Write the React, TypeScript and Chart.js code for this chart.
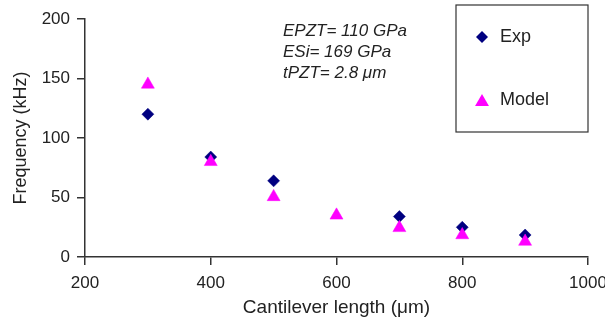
import React, { useEffect, useRef } from "react";
import { Chart, registerables } from "chart.js";

Chart.register(...registerables);

const lengths = [300, 400, 500, 600, 700, 800, 900];
const expLengths = [300, 400, 500, 700, 800, 900];
const expFreq = [120, 84, 64, 34, 25, 18.5];
const modelFreq = [145, 80, 50.5, 35, 24.5, 18.5, 13];
const xTicks = [200, 400, 600, 800, 1000];
const yTicks = [0, 50, 100, 150, 200];
const annotationLines = ["EPZT= 110 GPa", "ESi= 169 GPa", "tPZT= 2.8 \u03bcm"];
const seriesNames = ["Exp", "Model"];

const NAVY = "#000080";
const MAGENTA = "#ff00ff";
const AXIS = "#333333";
const TEXT = "#222222";
const FONT = "'Liberation Sans', Arial, Helvetica, sans-serif";

function drawDiamond(ctx: CanvasRenderingContext2D, x: number, y: number, r: number) {
  ctx.beginPath();
  ctx.moveTo(x, y - r);
  ctx.lineTo(x + r, y);
  ctx.lineTo(x, y + r);
  ctx.lineTo(x - r, y);
  ctx.closePath();
  ctx.fill();
}

function drawTriangle(ctx: CanvasRenderingContext2D, x: number, y: number, r: number) {
  ctx.beginPath();
  ctx.moveTo(x, y - r);
  ctx.lineTo(x + r * Math.sin((2 * Math.PI) / 3), y + r * 0.5);
  ctx.lineTo(x - r * Math.sin((2 * Math.PI) / 3), y + r * 0.5);
  ctx.closePath();
  ctx.fill();
}

const overlayPlugin = {
  id: "overlay",
  afterDraw(chart: any) {
    const ctx: CanvasRenderingContext2D = chart.ctx;
    ctx.save();
    ctx.fillStyle = TEXT;
    ctx.font = `italic 17px ${FONT}`;
    ctx.textBaseline = "middle";
    ctx.textAlign = "left";
    const ys = [31, 52, 73];
    annotationLines.forEach((t, i) => ctx.fillText(t, 283, ys[i]));
    ctx.strokeStyle = AXIS;
    ctx.lineWidth = 1.2;
    ctx.strokeRect(456, 5, 132, 127);
    ctx.fillStyle = NAVY;
    drawDiamond(ctx, 482, 37, 6);
    ctx.fillStyle = MAGENTA;
    drawTriangle(ctx, 482, 102, 8);
    ctx.fillStyle = TEXT;
    ctx.font = `18px ${FONT}`;
    ctx.fillText(seriesNames[0], 500, 37);
    ctx.fillText(seriesNames[1], 500, 100);
    ctx.restore();
  },
};

export default function App() {
  const ref = useRef<HTMLCanvasElement | null>(null);
  useEffect(() => {
    document.body.style.margin = "0";
    const canvas = ref.current;
    if (!canvas) return;
    const chart = new Chart(canvas, {
      type: "scatter",
      data: {
        datasets: [
          {
            label: seriesNames[0],
            data: expLengths.map((x, i) => ({ x, y: expFreq[i] })),
            pointStyle: "rectRot",
            pointRadius: 6,
            pointBackgroundColor: NAVY,
            pointBorderColor: NAVY,
            pointBorderWidth: 0.5,
            order: 1,
          },
          {
            label: seriesNames[1],
            data: lengths.map((x, i) => ({ x, y: modelFreq[i] })),
            pointStyle: "triangle",
            pointRadius: 7.5,
            pointBackgroundColor: MAGENTA,
            pointBorderColor: MAGENTA,
            pointBorderWidth: 0.5,
            order: 0,
          },
        ],
      },
      options: {
        animation: false,
        responsive: false,
        events: [],
        layout: { padding: { left: 0, top: 19, right: 17, bottom: 0 } },
        plugins: { legend: { display: false }, tooltip: { enabled: false } },
        scales: {
          x: {
            type: "linear",
            min: 200,
            max: 1000,
            afterBuildTicks: (s: any) => {
              s.ticks = xTicks.map((v) => ({ value: v }));
            },
            afterFit: (s: any) => {
              s.height = 68;
              s.paddingRight = 0;
              s.paddingLeft = 0;
            },
            ticks: {
              color: TEXT,
              font: { family: FONT, size: 17 },
              padding: 8,
              maxRotation: 0,
              callback: (v: any) => String(v),
            },
            grid: { drawOnChartArea: false, drawTicks: true, tickLength: 8, color: AXIS, lineWidth: 1.5 },
            border: { display: true, color: AXIS, width: 1.5 },
            title: {
              display: true,
              text: "Cantilever length (\u03bcm)",
              color: TEXT,
              font: { family: FONT, size: 19 },
              padding: { top: 0, bottom: 6 },
            },
          },
          y: {
            type: "linear",
            min: 0,
            max: 200,
            afterBuildTicks: (s: any) => {
              s.ticks = yTicks.map((v) => ({ value: v }));
            },
            afterFit: (s: any) => {
              s.width = 85;
              s.paddingTop = 0;
              s.paddingBottom = 0;
            },
            ticks: { color: TEXT, font: { family: FONT, size: 17 }, padding: 7, callback: (v: any) => String(v) },
            grid: { drawOnChartArea: false, drawTicks: true, tickLength: 8, color: AXIS, lineWidth: 1.5 },
            border: { display: true, color: AXIS, width: 1.5 },
            title: {
              display: true,
              text: "Frequency (kHz)",
              color: TEXT,
              font: { family: FONT, size: 18 },
              padding: { top: 10, bottom: 0 },
            },
          },
        },
      },
      plugins: [overlayPlugin],
    } as any);
    return () => chart.destroy();
  }, []);
  return <canvas ref={ref} width={605} height={325} style={{ width: 605, height: 325, display: "block" }} />;
}
